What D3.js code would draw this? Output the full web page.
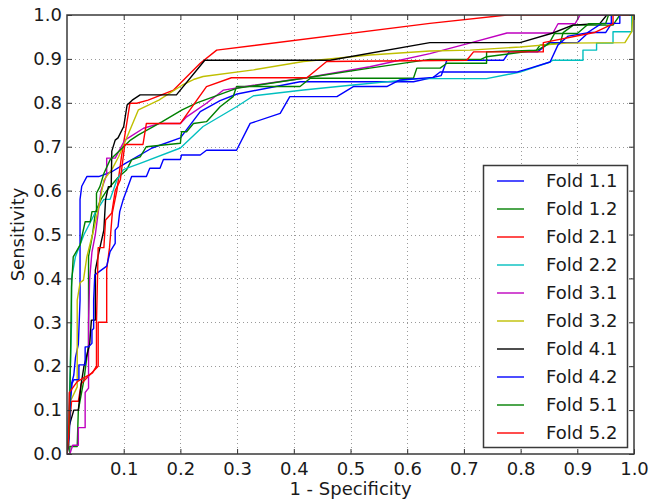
<!DOCTYPE html>
<html>
<head>
<meta charset="utf-8">
<script src="https://cdn.jsdelivr.net/npm/d3@7"></script>
<style>
    body { margin: 0; background: #fff; }
    #graph text { font-family: "DejaVu Sans", sans-serif; fill: #1a1a1a; }
</style>
</head>
<body>
<div id="graph"></div>
<script>
"use strict";

// ROC curves, [1 - specificity, sensitivity]
const fold11 = [[0,0],[0.003,0.06],[0.005,0.12],[0.008,0.16],[0.012,0.18],[0.015,0.22],[0.02,0.25],[0.023,0.35],[0.023,0.58],[0.026,0.61],[0.035,0.632],[0.056,0.632],[0.079,0.643],[0.103,0.662],[0.15,0.697],[0.2,0.72],[0.235,0.78],[0.27,0.805],[0.3,0.82],[0.411,0.848],[0.611,0.848],[0.66,0.862],[0.67,0.897],[0.77,0.897],[0.78,0.916],[0.83,0.916],[0.85,0.937],[0.9,0.937],[0.92,0.96],[0.95,0.96],[0.96,0.98],[0.96,1.0],[1,1]];
const fold12 = [[0,0],[0.005,0],[0.005,0.017],[0.018,0.017],[0.02,0.1],[0.03,0.17],[0.038,0.25],[0.038,0.45],[0.045,0.5],[0.05,0.55],[0.06,0.58],[0.07,0.6],[0.09,0.63],[0.105,0.647],[0.114,0.67],[0.129,0.677],[0.14,0.7],[0.2,0.708],[0.202,0.734],[0.211,0.734],[0.223,0.753],[0.246,0.757],[0.27,0.791],[0.293,0.814],[0.299,0.837],[0.411,0.837],[0.429,0.856],[0.611,0.856],[0.617,0.879],[0.658,0.879],[0.67,0.89],[0.74,0.89],[0.74,0.916],[0.828,0.92],[0.834,0.931],[0.87,0.936],[0.875,0.96],[0.893,0.977],[0.963,0.977],[0.975,1.0],[1,1]];
const fold21 = [[0,0],[0.004,0.06],[0.008,0.12],[0.02,0.12],[0.025,0.16],[0.04,0.18],[0.055,0.2],[0.055,0.3],[0.07,0.3],[0.07,0.42],[0.075,0.47],[0.08,0.55],[0.088,0.6],[0.096,0.677],[0.111,0.799],[0.123,0.799],[0.143,0.806],[0.188,0.829],[0.235,0.89],[0.264,0.92],[0.64,0.981],[0.776,1.0],[1,1]];
const fold22 = [[0,0],[0.002,0.08],[0.004,0.12],[0.006,0.2],[0.008,0.3],[0.008,0.4],[0.015,0.45],[0.03,0.5],[0.05,0.55],[0.065,0.58],[0.076,0.58],[0.088,0.624],[0.099,0.647],[0.106,0.651],[0.129,0.662],[0.2,0.697],[0.24,0.746],[0.299,0.791],[0.329,0.816],[0.417,0.829],[0.5,0.84],[0.622,0.855],[0.74,0.855],[0.799,0.87],[0.852,0.893],[0.857,0.897],[0.91,0.897],[0.91,0.92],[0.934,0.92],[0.934,0.936],[0.963,0.936],[0.963,0.962],[0.996,0.962],[0.996,1.0],[1,1]];
const fold31 = [[0,0],[0.005,0],[0.01,0.02],[0.02,0.02],[0.02,0.06],[0.032,0.06],[0.032,0.14],[0.038,0.15],[0.038,0.3],[0.04,0.4],[0.044,0.46],[0.05,0.5],[0.055,0.55],[0.06,0.6],[0.07,0.636],[0.07,0.674],[0.085,0.674],[0.102,0.715],[0.135,0.742],[0.164,0.753],[0.2,0.753],[0.211,0.768],[0.246,0.799],[0.276,0.829],[0.329,0.84],[0.417,0.856],[0.534,0.882],[0.64,0.912],[0.71,0.936],[0.776,0.959],[0.857,0.959],[0.866,0.98],[0.896,0.98],[0.905,1.0],[1,1]];
const fold32 = [[0,0],[0.003,0.04],[0.006,0.12],[0.018,0.153],[0.018,0.35],[0.023,0.39],[0.029,0.396],[0.035,0.449],[0.041,0.48],[0.047,0.51],[0.056,0.563],[0.065,0.624],[0.08,0.65],[0.091,0.677],[0.1,0.704],[0.126,0.784],[0.162,0.806],[0.203,0.84],[0.223,0.853],[0.24,0.86],[0.329,0.875],[0.417,0.894],[0.534,0.909],[0.64,0.918],[0.711,0.92],[0.799,0.927],[0.881,0.936],[0.984,0.937],[0.996,0.962],[0.998,1.0],[1,1]];
const fold41 = [[0,0],[0.003,0.02],[0.003,0.06],[0.012,0.1],[0.02,0.1],[0.025,0.16],[0.03,0.2],[0.04,0.25],[0.043,0.305],[0.05,0.305],[0.05,0.419],[0.056,0.458],[0.065,0.51],[0.068,0.579],[0.073,0.609],[0.078,0.609],[0.079,0.69],[0.085,0.715],[0.09,0.72],[0.1,0.746],[0.106,0.795],[0.115,0.806],[0.129,0.818],[0.193,0.818],[0.243,0.897],[0.464,0.897],[0.64,0.937],[0.799,0.937],[0.857,0.959],[0.892,0.977],[0.94,0.981],[0.952,1.0],[1,1]];
const fold42 = [[0,0],[0.004,0.04],[0.006,0.12],[0.009,0.161],[0.012,0.169],[0.021,0.169],[0.021,0.203],[0.032,0.203],[0.032,0.244],[0.038,0.244],[0.044,0.252],[0.044,0.282],[0.047,0.286],[0.047,0.35],[0.049,0.408],[0.07,0.428],[0.076,0.461],[0.085,0.48],[0.085,0.51],[0.09,0.518],[0.093,0.552],[0.099,0.579],[0.105,0.6],[0.114,0.632],[0.14,0.632],[0.146,0.651],[0.164,0.651],[0.17,0.671],[0.2,0.671],[0.202,0.681],[0.235,0.681],[0.246,0.692],[0.299,0.692],[0.323,0.753],[0.376,0.776],[0.393,0.814],[0.476,0.814],[0.505,0.837],[0.564,0.837],[0.587,0.852],[0.646,0.858],[0.658,0.87],[0.793,0.87],[0.817,0.879],[0.852,0.893],[0.866,0.932],[0.884,0.952],[0.917,0.959],[0.943,0.981],[0.975,0.981],[0.975,1.0],[1,1]];
const fold51 = [[0,0],[0.004,0.05],[0.006,0.2],[0.008,0.38],[0.011,0.449],[0.023,0.476],[0.032,0.529],[0.041,0.529],[0.044,0.552],[0.052,0.552],[0.052,0.594],[0.058,0.609],[0.065,0.639],[0.076,0.67],[0.088,0.685],[0.112,0.715],[0.126,0.727],[0.168,0.757],[0.203,0.784],[0.229,0.8],[0.299,0.833],[0.417,0.856],[0.534,0.879],[0.64,0.899],[0.73,0.899],[0.74,0.905],[0.83,0.92],[0.85,0.935],[0.86,0.958],[0.9,0.958],[0.92,0.98],[0.95,0.98],[0.955,1.0],[1,1]];
const fold52 = [[0,0],[0.003,0.04],[0.004,0.14],[0.018,0.165],[0.045,0.185],[0.052,0.2],[0.052,0.3],[0.055,0.47],[0.065,0.47],[0.068,0.533],[0.079,0.549],[0.085,0.6],[0.094,0.624],[0.102,0.705],[0.134,0.705],[0.14,0.753],[0.2,0.753],[0.229,0.806],[0.246,0.837],[0.29,0.857],[0.423,0.857],[0.458,0.894],[0.705,0.897],[0.717,0.916],[0.84,0.916],[0.84,0.937],[0.93,0.96],[0.963,0.98],[0.963,1.0],[1,1]];

const foldNames = ["Fold 1.1", "Fold 1.2", "Fold 2.1", "Fold 2.2", "Fold 3.1",
                   "Fold 3.2", "Fold 4.1", "Fold 4.2", "Fold 5.1", "Fold 5.2"];
const foldData = [fold11, fold12, fold21, fold22, fold31, fold32, fold41, fold42, fold51, fold52];
const xTicks = [0.1, 0.2, 0.3, 0.4, 0.5, 0.6, 0.7, 0.8, 0.9, 1.0];
const yTicks = [0.0, 0.1, 0.2, 0.3, 0.4, 0.5, 0.6, 0.7, 0.8, 0.9, 1.0];

(function() {
    const svgSize = { width: 652, height: 501 };
    const plot = { left: 67, right: 634, top: 15, bottom: 454 };
    // matplotlib classic cycle b g r c m y k
    const colors = ["#0000ff", "#008000", "#ff0000", "#00bfbf", "#bf00bf",
                    "#bfbf00", "#000000", "#0000ff", "#008000", "#ff0000"];

    window.addEventListener("load", init);

    function init() {
        let svg = d3.select("#graph")
                    .append("svg")
                        .attr("width", svgSize.width)
                        .attr("height", svgSize.height);

        let xScale = d3.scaleLinear().domain([0, 1]).range([plot.left, plot.right]);
        let yScale = d3.scaleLinear().domain([0, 1]).range([plot.bottom, plot.top]);

        drawGrid(svg, xScale, yScale);
        drawCurves(svg, xScale, yScale);
        drawAxes(svg, xScale, yScale);
        drawLegend(svg);
    }

    function drawGrid(svg, xScale, yScale) {
        let grid = svg.append("g")
                      .attr("stroke", "#9a9a9a")
                      .attr("stroke-width", 1)
                      .attr("stroke-dasharray", "1,3");
        grid.selectAll(".gx")
            .data(xTicks.filter(d => d < 1))
            .enter()
            .append("line")
                .attr("x1", d => Math.round(xScale(d)) + 0.5)
                .attr("x2", d => Math.round(xScale(d)) + 0.5)
                .attr("y1", plot.top)
                .attr("y2", plot.bottom);
        grid.selectAll(".gy")
            .data(yTicks.filter(d => d > 0 && d < 1))
            .enter()
            .append("line")
                .attr("y1", d => Math.round(yScale(d)) + 0.5)
                .attr("y2", d => Math.round(yScale(d)) + 0.5)
                .attr("x1", plot.left)
                .attr("x2", plot.right);
    }

    function drawCurves(svg, xScale, yScale) {
        svg.append("clipPath")
            .attr("id", "plot-clip")
            .append("rect")
                .attr("x", plot.left)
                .attr("y", plot.top)
                .attr("width", plot.right - plot.left)
                .attr("height", plot.bottom - plot.top);

        let line = d3.line()
                     .x(d => xScale(d[0]))
                     .y(d => yScale(d[1]));

        svg.append("g")
            .attr("clip-path", "url(#plot-clip)")
            .selectAll("path")
            .data(foldData)
            .enter()
            .append("path")
                .attr("d", d => line(d))
                .attr("fill", "none")
                .attr("stroke", (d, i) => colors[i])
                .attr("stroke-width", 1.4)
                .attr("stroke-linejoin", "round");
    }

    function drawAxes(svg, xScale, yScale) {
        let fmt = d3.format(".1f");
        let xAxis = svg.append("g")
            .attr("transform", "translate(0," + plot.bottom + ")")
            .call(d3.axisBottom(xScale).tickValues(xTicks).tickFormat(fmt)
                    .tickSizeInner(-5).tickSizeOuter(0).tickPadding(8));
        let xTop = svg.append("g")
            .attr("transform", "translate(0," + plot.top + ")")
            .call(d3.axisTop(xScale).tickValues(xTicks).tickFormat("")
                    .tickSizeInner(-5).tickSizeOuter(0));
        let yAxis = svg.append("g")
            .attr("transform", "translate(" + plot.left + ",0)")
            .call(d3.axisLeft(yScale).tickValues(yTicks).tickFormat(fmt)
                    .tickSizeInner(-5).tickSizeOuter(0).tickPadding(5));
        let yRight = svg.append("g")
            .attr("transform", "translate(" + plot.right + ",0)")
            .call(d3.axisRight(yScale).tickValues(yTicks).tickFormat("")
                    .tickSizeInner(-5).tickSizeOuter(0));

        [xAxis, xTop, yAxis, yRight].forEach(function(ax) {
            ax.select(".domain").remove();
            ax.selectAll("line").attr("stroke", "#333");
            ax.selectAll("text")
                .style("font-size", "18px")
                .attr("fill", "#1a1a1a");
        });

        svg.append("rect")
            .attr("x", plot.left)
            .attr("y", plot.top)
            .attr("width", plot.right - plot.left)
            .attr("height", plot.bottom - plot.top)
            .attr("fill", "none")
            .attr("stroke", "#3a3a3a")
            .attr("stroke-width", 1.5);

        svg.append("text")
            .attr("x", (plot.left + plot.right) / 2)
            .attr("y", 495)
            .attr("text-anchor", "middle")
            .style("font-size", "18px")
            .text("1 - Specificity");

        svg.append("text")
            .attr("transform", "translate(24," + ((plot.top + plot.bottom) / 2) + ") rotate(-90)")
            .attr("text-anchor", "middle")
            .style("font-size", "18px")
            .text("Sensitivity");
    }

    function drawLegend(svg) {
        let legend = svg.append("g");
        legend.append("rect")
            .attr("x", 483.5)
            .attr("y", 165.5)
            .attr("width", 144)
            .attr("height", 282)
            .attr("fill", "#fff")
            .attr("stroke", "#3a3a3a")
            .attr("stroke-width", 1.5);

        let rows = legend.selectAll(".row")
            .data(foldNames)
            .enter()
            .append("g")
                .attr("transform", (d, i) => "translate(0," + (181 + 28 * i) + ")");
        rows.append("line")
            .attr("x1", 497)
            .attr("x2", 524)
            .attr("stroke", (d, i) => colors[i])
            .attr("stroke-width", 1.4);
        rows.append("text")
            .attr("x", 546)
            .attr("dy", "0.36em")
            .style("font-size", "18px")
            .text(d => d);
    }
})();
</script>
</body>
</html>
